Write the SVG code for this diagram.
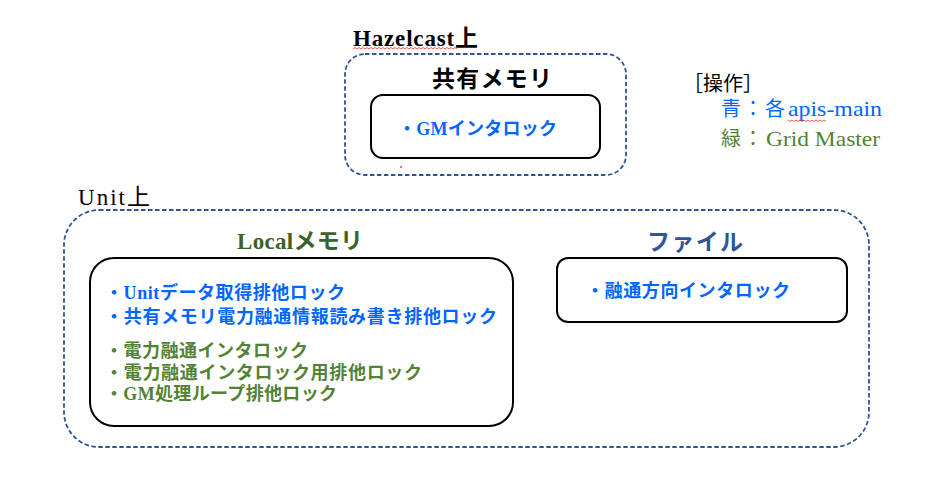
<svg xmlns="http://www.w3.org/2000/svg" width="942" height="487" viewBox="0 0 942 487">
<style>
.zone{fill:none;stroke:#2F5597;stroke-width:1.8;stroke-dasharray:4.5 2.5}
.box{fill:#fff;stroke:#000;stroke-width:2}
.t{font-family:"Liberation Serif","Noto Sans CJK JP",serif}
.h{font-size:23px;font-weight:bold}
.i{font-size:18px;font-weight:bold}
.blue{fill:#0066FF}
.green{fill:#548235}
.spell{fill:none;stroke:#E03030;stroke-width:0.8}
</style>
<rect width="942" height="487" fill="#fff"/>
<g id="hazelcast">
<text class="t h" x="353" y="46" fill="#000" textLength="125">Hazelcast上</text>
<path class="spell" d="M353 49 l2 -1.5 l2 1.5 l2 -1.5 l2 1.5 l2 -1.5 l2 1.5 l2 -1.5 l2 1.5 l2 -1.5 l2 1.5 l2 -1.5 l2 1.5 l2 -1.5 l2 1.5 l2 -1.5 l2 1.5 l2 -1.5 l2 1.5 l2 -1.5 l2 1.5 l2 -1.5 l2 1.5 l2 -1.5 l2 1.5 l2 -1.5 l2 1.5 l2 -1.5 l2 1.5 l2 -1.5 l2 1.5 l2 -1.5 l2 1.5 l2 -1.5 l2 1.5 l2 -1.5 l2 1.5 l2 -1.5 l2 1.5 l2 -1.5 l2 1.5 l2 -1.5 l2 1.5 l2 -1.5 l2 1.5 l2 -1.5 l2 1.5 l2 -1.5 l2 1.5 l2 -1.5 l2 1.5 l2 -1.5 l2 1.5"/>
<rect class="zone" x="345" y="54" width="281" height="121" rx="20"/>
<text class="t h" x="492" y="87" text-anchor="middle" fill="#000" textLength="120">共有メモリ</text>
</g>
<g id="shared-memory">
<rect class="box" x="371" y="95" width="229" height="63" rx="12"/>
<text class="t i blue" x="398" y="135" textLength="159">・GMインタロック</text>
<circle cx="401" cy="167" r="0.9" fill="#E03030"/>
</g>
<g id="legend">
<text class="t" x="683" y="91" font-size="20" fill="#000">［操作］</text>
<text class="t blue" x="721" y="116" font-size="20" textLength="64">青：各</text>
<text class="t blue" x="788" y="116" font-size="21" textLength="94" lengthAdjust="spacingAndGlyphs">apis-main</text>
<path class="spell" d="M788 120 l2 1.5 l2 -1.5 l2 1.5 l2 -1.5 l2 1.5 l2 -1.5 l2 1.5 l2 -1.5 l2 1.5 l2 -1.5 l2 1.5 l2 -1.5 l2 1.5 l2 -1.5 l2 1.5 l2 -1.5 l2 1.5 l2 -1.5 l2 1.5"/>
<text class="t green" x="721" y="146" font-size="20" textLength="42">緑：</text>
<text class="t green" x="766" y="146" font-size="21" textLength="114" lengthAdjust="spacingAndGlyphs">Grid Master</text>
</g>
<g id="unit">
<text class="t" x="78" y="205" font-size="23" fill="#000" textLength="72">Unit上</text>
<rect class="zone" x="64" y="210" width="805" height="237" rx="35"/>
<text class="t h" x="300" y="249" text-anchor="middle" fill="#3B6227" textLength="126">Localメモリ</text>
<text class="t h" x="695" y="250" text-anchor="middle" fill="#2F5597" textLength="96">ファイル</text>
</g>
<g id="local-memory">
<rect class="box" x="90" y="258" width="423" height="168" rx="24"/>
<text class="t i blue" x="105" y="299" textLength="240">・Unitデータ取得排他ロック</text>
<text class="t i blue" x="105" y="323" textLength="392">・共有メモリ電力融通情報読み書き排他ロック</text>
<text class="t i green" x="105" y="357" textLength="203">・電力融通インタロック</text>
<text class="t i green" x="105" y="379" textLength="317">・電力融通インタロック用排他ロック</text>
<text class="t i green" x="105" y="400" textLength="232">・GM処理ループ排他ロック</text>
</g>
<g id="file">
<rect class="box" x="557" y="258" width="290" height="64" rx="11"/>
<text class="t i blue" x="586" y="297" textLength="204">・融通方向インタロック</text>
</g>
</svg>
